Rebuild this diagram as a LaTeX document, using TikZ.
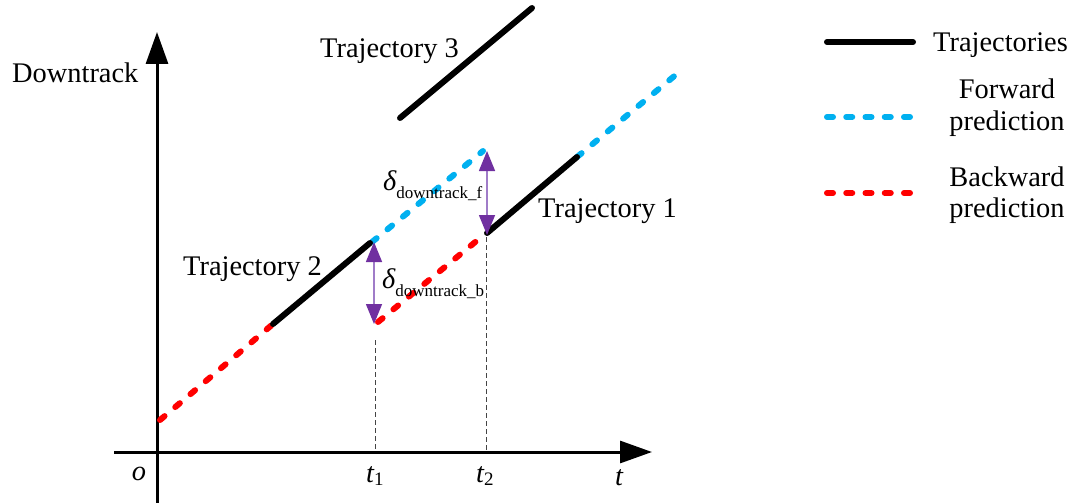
\documentclass[tikz,border=0pt]{standalone}
\usepackage{fontspec}
\setmainfont{Liberation Serif}
\usetikzlibrary{arrows.meta}
\definecolor{fwdblue}{HTML}{00B0F0}
\definecolor{bwdred}{HTML}{FF0000}
\definecolor{arrpurple}{HTML}{7030A0}
\definecolor{shaftpurple}{HTML}{A07CC8}
\definecolor{guidegray}{HTML}{444444}
\begin{document}
\begin{tikzpicture}[x=1pt,y=-1pt,
  lbl/.style={inner sep=0pt,anchor=base west,font=\fontsize{28.4}{34}\selectfont},
  lblc/.style={inner sep=0pt,anchor=base,font=\fontsize{28.4}{34}\selectfont},
  traj/.style={line width=6pt,line cap=round},
  pred/.style={line width=6pt,line cap=round,dash pattern=on 6pt off 14pt},
  axisline/.style={line width=3pt,-{Triangle[length=32pt,width=22pt]}},
  guide/.style={guidegray,line width=1pt,dash pattern=on 5pt off 3pt},
  gaparrow/.style={shaftpurple,line width=1.5pt,{Triangle[length=20pt,width=16pt,color=arrpurple]}-{Triangle[length=20pt,width=16pt,color=arrpurple]}}]
\useasboundingbox (0,0) rectangle (1076,503);

% axes
\coordinate (ybot) at (157,503);
\coordinate (ytop) at (157,32);
\coordinate (xleft) at (114,452);
\coordinate (xright) at (652,452);
\draw[axisline] (ybot) -- (ytop);
\draw[axisline] (xleft) -- (xright);

% guide lines
\coordinate (g1top) at (375,340);
\coordinate (g1bot) at (375,450);
\coordinate (g2top) at (486,237);
\coordinate (g2bot) at (486,450);
\draw[guide] (g1top) -- (g1bot);
\draw[guide] (g2top) -- (g2bot);

% trajectory points
\coordinate (r0) at (160,420);
\coordinate (t2a) at (273,324);
\coordinate (t2b) at (370,243);
\coordinate (f2a) at (372,242);
\coordinate (f2b) at (483,151);
\coordinate (r1a) at (378,322);
\coordinate (r1b) at (485,234);
\coordinate (t1a) at (487,233);
\coordinate (t1b) at (577,157);
\coordinate (f1b) at (684,68);
\coordinate (t3a) at (400,118);
\coordinate (t3b) at (532,8);

\draw[pred,bwdred] (r0) -- (t2a);
\draw[pred,bwdred] (r1a) -- (r1b);
\draw[pred,fwdblue] (f2a) -- (f2b);
\draw[pred,fwdblue] (t1b) -- (f1b);
\draw[traj] (t2a) -- (t2b);
\draw[traj] (t1a) -- (t1b);
\draw[traj] (t3a) -- (t3b);

% gap arrows
\coordinate (ga1) at (374,242);
\coordinate (gb1) at (374,324);
\coordinate (ga2) at (487,151);
\coordinate (gb2) at (487,235);
\draw[gaparrow] (ga1) -- (gb1);
\draw[gaparrow] (ga2) -- (gb2);

% labels
\node[lbl] (ylab) at (12,82) {Downtrack};
\node[lblc] (olab) at (139,480) {\itshape o};
\node[lbl] (t1lab) at (366,482) {\itshape t\upshape\raisebox{-3pt}{\fontsize{19}{22}\selectfont 1}};
\node[lbl] (t2lab) at (476,482) {\itshape t\upshape\raisebox{-3pt}{\fontsize{19}{22}\selectfont 2}};
\node[lblc] (tlab) at (619,485) {\itshape t};
\node[lbl] (tr3) at (320,58) {Trajectory 3};
\node[lbl] (tr1) at (538,217) {Trajectory 1};
\node[lbl] (tr2) at (183,275) {Trajectory 2};
\node[lbl] (df) at (383,190) {\itshape δ\upshape\raisebox{-8pt}{\fontsize{17}{20}\selectfont downtrack\_f}};
\node[lbl] (db) at (382,288) {\itshape δ\upshape\raisebox{-8pt}{\fontsize{17}{20}\selectfont downtrack\_b}};

% legend
\coordinate (l1a) at (827,42);
\coordinate (l1b) at (913,42);
\coordinate (l2a) at (827,117);
\coordinate (l2b) at (913,117);
\coordinate (l3a) at (827,193);
\coordinate (l3b) at (913,193);
\draw[traj] (l1a) -- (l1b);
\draw[line width=6pt,line cap=round,dash pattern=on 6pt off 13.25pt,fwdblue] (l2a) -- (l2b);
\draw[line width=6pt,line cap=round,dash pattern=on 6pt off 13.25pt,bwdred] (l3a) -- (l3b);
\node[lbl] (leg1) at (933,52) {Trajectories};
\node[lblc] (leg2a) at (1007,99) {Forward};
\node[lblc] (leg2b) at (1007,130) {prediction};
\node[lblc] (leg3a) at (1007,186) {Backward};
\node[lblc] (leg3b) at (1007,217) {prediction};
\end{tikzpicture}
\end{document}
